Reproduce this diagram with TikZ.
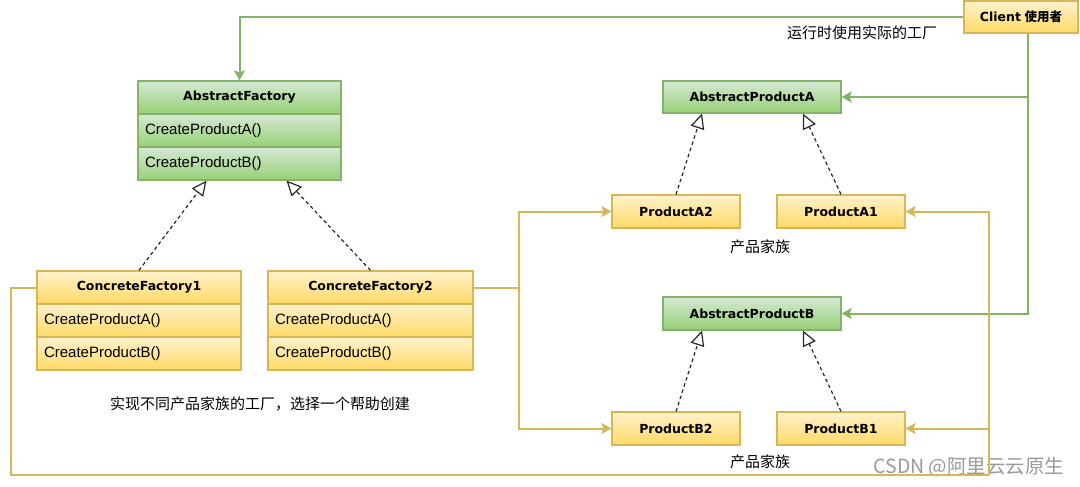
\documentclass[tikz,border=0pt]{standalone}
\usepackage{fontspec}
\setmainfont{Liberation Sans}
\newfontfamily\hdr{DejaVu Sans}
\newfontfamily\cjk{Noto Sans CJK SC}
\usetikzlibrary{arrows.meta,calc}
\definecolor{gfill}{HTML}{D5E8D4}
\definecolor{ggrad}{HTML}{97D077}
\definecolor{gline}{HTML}{82B366}
\definecolor{yfill}{HTML}{FFF2CC}
\definecolor{ygrad}{HTML}{FFD966}
\definecolor{yline}{HTML}{D6B656}
\begin{document}
\begin{tikzpicture}[x=1pt,y=-1pt,
  gbox/.style={draw=gline,line width=1.2pt,top color=gfill,bottom color=ggrad,rectangle,inner sep=0pt,minimum height=33pt},
  ybox/.style={draw=yline,line width=1.2pt,top color=yfill,bottom color=ygrad,rectangle,inner sep=0pt,minimum height=33pt},
  hd/.style={font=\hdr\bfseries\fontsize{12.5}{15}\selectfont},
  rowtxt/.style={font=\fontsize{15}{18}\selectfont,text width=#1,align=left,inner xsep=7pt},
  cn/.style={font=\cjk\fontsize{15}{18}\selectfont},
  garrow/.style={draw=gline,line width=2pt,-{Stealth[length=10pt,width=11pt,inset=2pt]}},
  yarrow/.style={draw=yline,line width=2pt,-{Stealth[length=10pt,width=11pt,inset=2pt]}},
  gline2/.style={draw=gline,line width=2pt},
  yline2/.style={draw=yline,line width=2pt},
  inh/.style={draw=black!85,line width=1.2pt,dash pattern=on 3.5pt off 3pt,-{Triangle[open,length=15pt,width=14pt,line width=1.2pt]}}
]
\useasboundingbox (0,0) rectangle (1080,487);
% AbstractFactory
\node[gbox,hd,minimum width=203pt] (af) at (239.5,97.5) {AbstractFactory};
\node[gbox,minimum width=203pt] (af1) at (239.5,130.5) {};
\node[gbox,minimum width=203pt] (af2) at (239.5,163.5) {};
\node[rowtxt=189pt] at (af1) {CreateProductA()};
\node[rowtxt=189pt] at (af2) {CreateProductB()};
% ConcreteFactory1
\node[ybox,hd,minimum width=204pt] (cf1) at (139,287.5) {ConcreteFactory1};
\node[ybox,minimum width=204pt] (cf1a) at (139,320.5) {};
\node[ybox,minimum width=204pt] (cf1b) at (139,353.5) {};
\node[rowtxt=190pt] at (cf1a) {CreateProductA()};
\node[rowtxt=190pt] at (cf1b) {CreateProductB()};
% ConcreteFactory2
\node[ybox,hd,minimum width=205pt] (cf2) at (370.5,287.5) {ConcreteFactory2};
\node[ybox,minimum width=205pt] (cf2a) at (370.5,320.5) {};
\node[ybox,minimum width=205pt] (cf2b) at (370.5,353.5) {};
\node[rowtxt=191pt] at (cf2a) {CreateProductA()};
\node[rowtxt=191pt] at (cf2b) {CreateProductB()};
% products
\node[gbox,hd,minimum width=178pt,minimum height=32pt] (apa) at (752,97) {AbstractProductA};
\node[ybox,hd,minimum width=128pt] (pa2) at (676,211.5) {ProductA2};
\node[ybox,hd,minimum width=128pt] (pa1) at (841,211.5) {ProductA1};
\node[gbox,hd,minimum width=178pt] (apb) at (752,313.5) {AbstractProductB};
\node[ybox,hd,minimum width=128pt] (pb2) at (676,428.5) {ProductB2};
\node[ybox,hd,minimum width=128pt] (pb1) at (841,428.5) {ProductB1};
% client
\node[ybox,minimum width=114pt,minimum height=32pt,font=\fontsize{12.5}{15}\selectfont] (cl) at (1021,17) {{\hdr\bfseries Client} {\cjk\bfseries 使用者}};
% labels
\node[cn] (t1) at (862,33) {运行时使用实际的工厂};
\node[cn] (t2) at (760,247) {产品家族};
\node[cn] (t3) at (760,462) {产品家族};
\node[cn] (t4) at (260,404) {实现不同产品家族的工厂，选择一个帮助创建};
\node[font=\cjk\fontsize{19.5}{22}\selectfont,text=black!40] (wm) at (969,467) {CSDN @阿里云云原生};
% inheritance
\draw[inh] (cf1.north) -- ([xshift=-33pt]af2.south);
\draw[inh] (cf2.north) -- ([xshift=47pt]af2.south);
\draw[inh] (pa2.north) -- ([xshift=-50pt]apa.south);
\draw[inh] (pa1.north) -- ([xshift=51pt]apa.south);
\draw[inh] (pb2.north) -- ([xshift=-50pt]apb.south);
\draw[inh] (pb1.north) -- ([xshift=51pt]apb.south);
% green
\draw[garrow] (cl.west) -| (af.north);
\coordinate (gj) at (1028,97);
\draw[garrow] ([xshift=7pt]cl.south) |- (apb.east);
\draw[garrow] (gj) -- (apa.east);
% yellow
\coordinate (yj) at (519,287.5);
\draw[yline2] (cf2.east) -- (yj);
\draw[yarrow] (yj) |- (pa2.west);
\draw[yarrow] (yj) |- (pb2.west);
\coordinate (yl) at (11,287.5);
\coordinate (yb) at (11,475);
\coordinate (yr) at (989,475);
\coordinate (yk) at (989,428.5);
\draw[yline2] (cf1.west) -- (yl) -- (yb) -- (yr);
\draw[yarrow] (yr) |- (pa1.east);
\draw[yarrow] (yk) -- (pb1.east);
\end{tikzpicture}
\end{document}
